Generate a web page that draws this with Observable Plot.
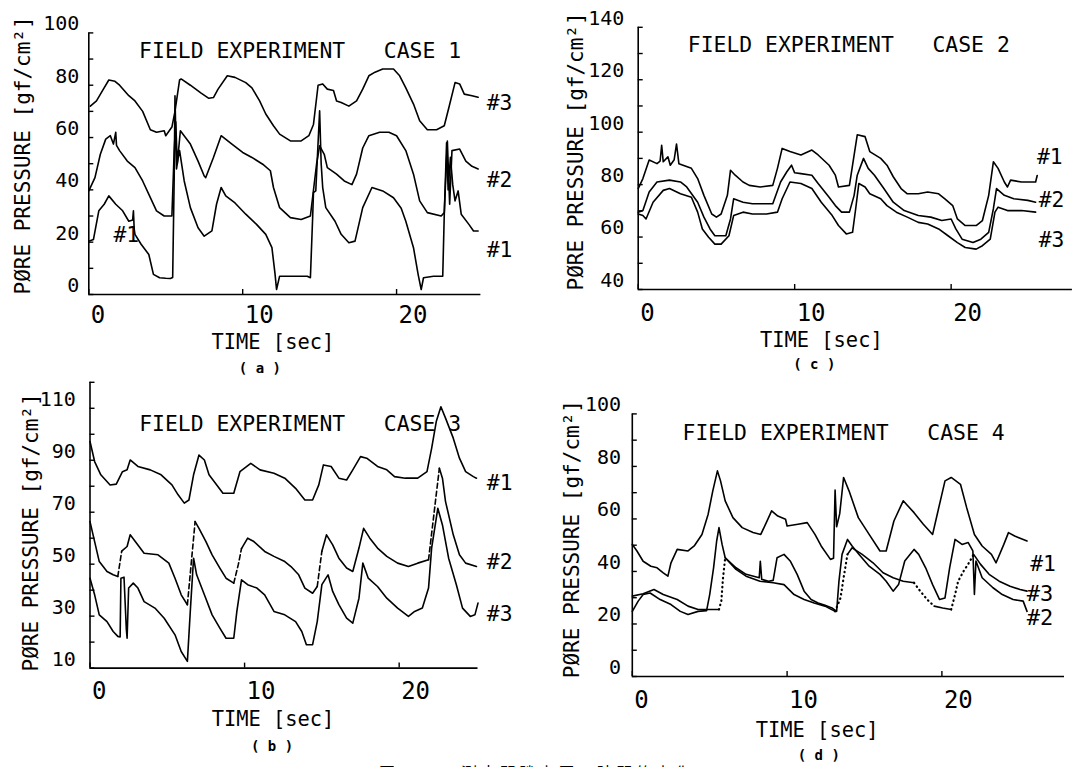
<!DOCTYPE html>
<html><head><meta charset="utf-8">
<script src="https://cdn.jsdelivr.net/npm/d3@7"></script>
<script src="https://cdn.jsdelivr.net/npm/@observablehq/plot@0.6"></script>
<style>
html,body{margin:0;padding:0;background:#fff;}
body{width:1079px;height:767px;overflow:hidden;position:relative;}
.panel{position:absolute;}
.cap{position:absolute;top:764px;font-family:"Noto Sans CJK JP";font-size:16px;line-height:16px;white-space:pre;color:#000;}
</style></head><body>
<div id="pa" class="panel" style="left:0;top:0"></div>
<div id="pc" class="panel" style="left:540px;top:0"></div>
<div id="pb" class="panel" style="left:0;top:380px"></div>
<div id="pd" class="panel" style="left:540px;top:380px"></div>
<div id="cap1" class="cap" style="left:379px"></div>
<div id="cap2" class="cap" style="left:461px;letter-spacing:3.4px"></div>
<script>
// ---------- text ----------
const X_TICKS = [0, 10, 20];
const TIME_LABEL = "TIME [sec]";
const Y_TITLE = "PØRE PRESSURE [gf/cm²]";
const TITLES = ["FIELD EXPERIMENT   CASE 1", "FIELD EXPERIMENT   CASE 2", "FIELD EXPERIMENT   CASE 3", "FIELD EXPERIMENT   CASE 4"];
const SUBS = ["( a )", "( c )", "( b )", "( d )"];
const CAPTION_NUM = "図 3";
const CAPTION = "測定間隙水圧の時間的変化";

// ---------- (a) CASE 1 : [time s, pressure gf/cm2, segment style] ----------
const caseA1 = [[0,20.4],[0.3,21],[0.65,32],[1.0,34.5],[1.3,37.7],[1.75,34.5],[2.2,32],[2.6,28],[2.85,28.5],[2.9,32],[2.95,25],[3.0,23],[3.4,19.2],[3.9,15.3],[4.2,7.7],[4.6,6.4],[5.0,6.2],[5.3,6.1],[5.45,6.5],[5.55,45],[5.6,76],[5.7,48],[5.8,52],[5.9,55],[6.2,43.4],[6.6,33.2],[7.1,25.5],[7.5,22.3],[8.0,24.3],[8.3,34.5],[8.6,40.9],[8.9,37.7],[9.5,35],[10.2,30.7],[10.9,26.8],[11.5,23],[11.9,17.9],[12.1,8],[12.2,1.9],[12.4,7],[13.3,7],[14.2,7],[14.4,6.4],[14.55,30],[14.6,39],[14.75,39.6],[14.85,52],[15.0,70.2],[15.1,50],[15.2,40.9],[15.4,33.2],[16.0,28],[16.4,23],[16.9,19.8],[17.3,20.4],[17.8,33.2],[18.4,40.9],[19.1,39.6],[19.8,37],[20.3,33],[20.6,28],[21.1,17.9],[21.4,7.7],[21.6,1.9],[21.75,6.4],[22.4,7],[23.0,7],[23.1,30.7],[23.25,58],[23.35,40],[23.5,52.4],[23.65,42],[23.8,35.8],[24.0,39.6],[24.2,30.7],[24.7,26.8],[25.0,24.3],[25.3,24.3]];
const caseA2 = [[0,39.6],[0.4,44.7],[0.75,53.6],[1.1,59.4],[1.4,60.7],[1.6,57.5],[1.75,62],[1.8,57],[2.0,55],[2.5,51],[3.0,48.5],[3.5,43.4],[4.0,37],[4.4,32],[4.9,30],[5.4,30],[5.55,55],[5.65,66],[5.75,50],[5.95,62.6],[6.6,57.5],[7.1,51],[7.5,45.3],[7.6,44.7],[8.1,52.4],[8.6,60.7],[9.3,57.5],[10.0,54.3],[10.6,52.4],[11.3,49.8],[11.8,47.3],[12.0,40.9],[12.4,33.2],[13.1,29.4],[13.8,28.7],[14.4,30],[14.8,49.8],[15.0,56.8],[15.3,53.6],[15.5,48.5],[16.1,46],[16.6,43.4],[17.1,42],[17.4,46],[17.8,56],[18.2,60.7],[18.9,62],[19.5,62],[20.0,60.7],[20.6,55],[21.1,46],[21.5,35.8],[22.0,31.3],[22.9,30],[23.1,31.3],[23.3,58.7],[23.45,34.5],[23.6,55],[24.1,55.6],[24.5,51],[24.9,49],[25.3,48]];
const caseA3 = [[0.1,72],[0.5,74],[0.9,78],[1.3,82],[1.7,81.5],[2.0,80],[2.6,76],[3.0,74],[3.5,70],[4.0,63],[4.4,62],[4.9,62.6],[5.0,60.7],[5.4,64],[5.6,70],[5.9,82],[6.0,82.4],[6.6,80],[7.3,77],[7.8,75],[8.1,75.3],[8.4,78.5],[9.0,83.6],[9.5,83],[10.2,81],[10.6,79],[11.1,74],[11.5,69],[12.0,64.5],[12.4,61.3],[13.1,58.7],[13.8,58.7],[14.3,60.7],[14.6,65],[14.9,80],[15.2,80.5],[15.5,78.5],[15.9,78],[16.1,74],[16.4,73.4],[16.9,72],[17.4,74],[17.8,78.5],[18.2,83.6],[18.6,85],[19.1,86.2],[19.8,86.2],[20.2,83.6],[20.6,79],[21.1,72.8],[21.5,66.4],[22.0,63],[22.6,63],[23.1,64.5],[23.4,71.5],[23.8,81],[24.1,80.5],[24.4,76.6],[24.9,76],[25.3,75.4]];

// ---------- (c) CASE 2 ----------
const caseC1 = [[0,78.5],[0.3,82.3],[0.7,89.4],[1.2,88],[1.4,89],[1.5,95],[1.6,88.7],[1.9,90.6],[2.05,87.4],[2.3,89.5],[2.45,95.5],[2.6,88],[3.4,86.2],[3.8,82.3],[4.2,75.9],[4.7,68.8],[5.0,67.6],[5.3,68.8],[5.7,75.9],[5.9,85.5],[6.2,83.6],[6.7,81],[7.1,79.7],[7.8,79.1],[8.6,79.7],[8.9,86.2],[9.2,93.8],[9.7,92.6],[10.4,91.3],[11.1,93.2],[11.5,91.3],[12.2,87.4],[12.6,83.6],[12.8,79.1],[13.5,79.7],[13.7,87.4],[14.0,99],[14.5,98.3],[14.8,92.6],[15.5,90],[15.9,87.4],[16.3,83],[16.8,78.5],[17.2,76.5],[17.9,76.5],[18.5,77.2],[19.2,76.5],[19.6,74.6],[20.1,72],[20.4,66.9],[20.9,64.4],[21.6,64.4],[22.0,66.3],[22.4,75.9],[22.7,88.7],[23.0,86.2],[23.4,81],[23.6,79.1],[23.8,81.7],[24.5,81],[25.4,81],[25.5,83.5]];
const caseC2 = [[0,69.5],[0.3,70.1],[0.7,77.2],[1.2,81],[2.0,81.7],[2.7,81],[3.1,79.1],[3.8,73.3],[4.2,67.6],[4.6,63],[4.9,60.5],[5.6,60.5],[5.9,66.9],[6.1,74.6],[6.7,73.3],[7.3,72.7],[8.0,72.7],[8.6,72.7],[9.1,81],[9.5,84.9],[9.8,87.4],[10.0,84.5],[10.4,84.2],[11.1,83.6],[11.5,80.4],[12.2,75.2],[12.6,72],[13.0,69.5],[13.5,69.5],[13.8,75.9],[14.0,83.6],[14.4,90],[14.7,86.2],[15.1,83.6],[15.7,78.5],[16.3,73.3],[17.0,70.1],[17.9,68.2],[18.7,67.6],[19.4,66.3],[20.0,66.9],[20.3,63.1],[20.7,59.2],[21.4,57.9],[21.9,59.2],[22.4,61.8],[22.7,70.8],[22.9,78.5],[23.4,75.9],[24.0,74.6],[24.9,74],[25.4,73.3]];
const caseC3 = [[0,68.8],[0.3,68.2],[0.5,66.9],[0.95,73.3],[1.6,77.8],[2.0,78.5],[2.7,76.5],[3.4,75.2],[3.8,69.5],[4.1,63.1],[4.5,59.9],[4.9,57.3],[5.3,57.3],[5.8,60.5],[6.1,68.2],[6.7,69.5],[7.3,68.8],[8.2,68.8],[8.9,69.5],[9.2,74.6],[9.7,81],[10.4,80.4],[11.1,78.5],[11.7,73.3],[12.4,68.2],[12.8,64.4],[13.3,61.2],[13.7,61.8],[13.9,70.8],[14.1,80.4],[14.5,79.1],[14.8,76.5],[15.5,74.6],[15.9,72],[16.5,69.5],[17.2,67.6],[17.9,65.6],[18.5,65],[19.2,63.1],[19.8,60.5],[20.4,57.9],[20.9,56],[21.6,55.4],[22.0,56.7],[22.5,59.2],[22.8,69.5],[23.0,71.4],[23.6,70.1],[24.5,70.1],[25.4,69.5]];

// ---------- (b) CASE 3 ----------
const caseB1 = [[0,97.2],[0.3,89.5],[0.7,84.4],[1.3,80.5],[1.7,80.8],[2.1,85.6],[2.4,86.3],[2.6,90.1],[3.1,87.6],[3.9,86.3],[4.6,84.4],[5.3,80.5],[5.7,76.7],[6.1,73.5],[6.4,74.7],[6.7,84.4],[7.05,92],[7.4,90.1],[7.7,84.4],[8.2,80.5],[8.6,77.3],[9.3,77.3],[9.7,85.6],[10.4,88.8],[11.0,86.3],[11.9,85],[12.6,83.1],[13.3,79.2],[13.9,74.7],[14.4,74.7],[14.8,80.5],[15.1,88.2],[15.6,87.6],[16.1,83.1],[16.6,82.4],[17.0,86.3],[17.5,91.4],[17.9,90.8],[18.6,87.6],[19.2,86.3],[19.7,83.7],[20.4,83.1],[21.2,83.1],[21.8,85.6],[22.1,94.6],[22.4,104.9],[22.7,110.6],[23.0,106.2],[23.5,98.5],[23.9,90.8],[24.3,85.6],[24.8,83.7],[25.0,83.1]];
const caseB2 = [[0,66.4],[0.3,58.7],[0.6,51],[1.1,47.2],[1.5,45.9],[1.8,45.3,"d"],[2.05,55],[2.4,56.8],[2.6,61.3],[3.1,57.4],[3.5,54.2],[4.4,53.6],[5.1,50.4],[5.5,44.6],[5.9,38.2],[6.3,34.4,"d"],[6.8,66.4],[7.05,63.8],[7.5,58.7],[7.9,53.6],[8.4,48.5],[8.8,44.6],[9.3,42.7,"d"],[9.6,50,"d"],[9.8,56],[10.2,60],[10.6,58.7],[11.3,54.9],[11.9,53],[12.6,51],[13.0,49.1],[13.5,45.9],[13.9,40.8],[14.4,38.8],[14.7,41.4,"d"],[15.0,55],[15.3,61.3],[15.7,57.4],[16.1,52.3],[16.6,48.5],[17.0,47.2],[17.4,56.2],[17.7,63.8],[18.1,60],[18.6,56.2],[19.2,53],[19.9,50.4],[20.6,49.1],[21.2,50.4],[21.9,51.7,"d"],[22.6,86.9],[22.8,83.1],[23.0,74.1],[23.5,61.3],[23.9,53.6],[24.3,50.4],[25.0,49.1]];
const caseB3 = [[0,44.6],[0.3,38.2],[0.6,30.5],[1.1,27.9],[1.5,24.1],[1.8,22.2],[1.95,22],[2.0,44.6],[2.2,45],[2.35,25],[2.4,21.5],[2.5,40.8],[2.8,42.7],[3.1,40.8],[3.5,35.6],[4.2,33.1],[4.8,29.2],[5.5,22.8],[5.9,16.4],[6.3,12.6],[6.5,33.1],[6.7,52.3],[6.9,45.9],[7.4,38.2],[7.9,30.5],[8.4,25.4],[8.8,21.5],[9.3,21.5],[9.5,31.8],[9.8,44],[10.2,42.1],[10.8,40.8],[11.3,38.2],[11.9,31.8],[12.6,30.5],[13.3,27.9],[13.7,24.1],[14.0,19],[14.4,19],[14.7,27.9],[15.0,42.1],[15.4,45.9],[15.7,39.5],[16.1,34.4],[16.6,29.2],[17.0,27.3],[17.4,36.9],[17.65,50.4],[18.0,44.6],[18.6,41.4],[19.2,36.9],[19.9,33.1],[20.6,29.9],[21.0,31.8],[21.5,33.1],[21.9,40.8],[22.1,56.2],[22.5,71.5],[22.8,65.1],[23.2,52.3],[23.7,42.1],[24.1,33.1],[24.6,29.9],[24.9,30.5],[25.1,35]];

// ---------- (d) CASE 4 ----------
const caseD1 = [[0,50.3],[0.3,47.8],[0.7,43.9],[1.2,42],[1.6,41.4],[2.0,39.5],[2.3,38.2],[2.5,43.3],[2.9,48.4],[3.6,47.8],[4.0,49.7],[4.5,54.1],[4.9,61.8],[5.2,70.7],[5.5,78.3],[5.7,74.5],[6.0,66.9],[6.5,60.5],[7.1,56.7],[7.8,54.8],[8.3,54.1],[8.7,59.2],[9.0,63.1],[9.4,61.1],[9.9,59.9],[10.0,57.3],[10.7,58],[11.3,58.6],[11.8,54.1],[12.2,49.7],[12.8,44.6],[13.0,45],[13.1,71],[13.2,57],[13.4,62],[13.65,75.8],[14.0,70.7],[14.6,60.5],[15.3,54.1],[16.0,47.8],[16.4,47.8],[16.9,59.2],[17.5,66.9],[18.2,62.4],[18.8,58],[19.4,54.1],[19.7,61.8],[20.2,74.5],[20.6,75.8],[21.2,73.2],[21.6,64.3],[22.1,54.1],[22.6,49.7],[23.2,46.5],[23.5,43.3],[24.0,50.3],[24.3,54.8],[24.7,53.5],[25.5,51.6]];
const caseD2 = [[0,24.8],[0.38,28.7],[0.7,31.2],[1.15,31.8],[1.8,29.3],[2.5,27.4],[3.1,24.8],[3.6,23.6],[4.25,24.8],[4.8,25.1],[5.0,31.2],[5.25,41.4],[5.45,51.6],[5.6,56.7],[5.8,50.3],[6.0,45.2],[6.7,41.4],[7.35,38.9],[8.2,37.6],[8.27,43.9],[8.36,37],[8.8,36.3],[9.1,36.6],[9.35,45.2],[9.8,46.5],[10.2,44],[10.65,38.9],[11.1,32.5],[11.55,29.3],[12.0,28],[12.45,27.1],[12.9,26.1],[13.2,24.8],[13.35,36.3],[13.55,46.5],[13.9,52.2],[14.2,49.7],[14.65,46.5],[15.3,42],[16.0,38.9],[16.4,36.3],[16.85,32.5],[17.2,35],[17.6,44],[18.2,48.4],[18.5,46.5],[18.95,41.4],[19.4,35],[19.85,29.3],[20.2,29.9],[20.5,41.4],[20.85,52.2],[21.3,50.3],[21.7,51],[22.0,47.8],[22.1,31.2],[22.2,44],[22.6,37.6],[23.3,33.8],[23.9,31.2],[24.6,29.3],[25.25,28.7],[25.5,24.8]];
const caseD3 = [[0,30.6],[0.7,31.5],[1.4,33.1],[2.0,31.2],[2.9,29.3],[3.6,26.8],[4.25,25.5],[5.6,25.5,"o"],[5.75,28.7,"o"],[5.85,36.9,"o"],[6.0,45.2],[6.7,40.8],[7.35,38.2],[8.25,36.3],[9.1,35.7],[9.8,35],[10.45,31.2],[11.1,29.3],[11.75,28],[12.45,26.8],[13.1,24.8,"o"],[13.45,29.9,"o"],[13.65,37.6,"o"],[13.9,46.5],[14.2,49],[14.85,46.5],[15.55,43.3],[16.2,39.5],[16.85,37.6],[17.5,36.3],[18.2,35.7,"o"],[18.6,32.5,"o"],[19.05,29.3,"o"],[19.5,26.8],[20.05,26.1],[20.6,25.5,"o"],[20.85,31.2,"o"],[21.05,36.3,"o"],[21.4,40.1,"o"],[21.75,43.3,"o"],[22.05,46.5],[22.5,42.7],[23.05,38.9],[23.7,36.3],[24.4,34.4],[25.05,33.1],[25.5,32.5]];

// ---------- helpers ----------
const MONO = "DejaVu Sans Mono";
const nb = s => s.replace(/ /g, "\u00a0");

function toRows(pts, id) {
  const rows = [];
  let g = 0, cur = null;
  for (let i = 0; i < pts.length - 1; i++) {
    const m = pts[i][2] || "s";
    if (m !== cur) { g++; cur = m; rows.push({t: pts[i][0], v: pts[i][1], g: id + "-" + g, m}); }
    rows.push({t: pts[i + 1][0], v: pts[i + 1][1], g: id + "-" + g, m});
  }
  return rows;
}

function makePanel(p) {
  const fw = p.width - p.ml - p.mr, fh = p.height - p.mt - p.mb;
  const pxT = fw / p.xmax, pxV = fh / (p.ydom[1] - p.ydom[0]);
  const seriesMarks = [];
  p.series.forEach((s, i) => {
    const rows = toRows(s, i);
    seriesMarks.push(Plot.line(rows.filter(r => r.m === "s"), {x: "t", y: "v", z: "g", stroke: "#000", strokeWidth: 1.6, strokeLinejoin: "round", strokeLinecap: "round"}));
    seriesMarks.push(Plot.line(rows.filter(r => r.m === "d"), {x: "t", y: "v", z: "g", stroke: "#000", strokeWidth: 1.6, strokeDasharray: "5,3"}));
    seriesMarks.push(Plot.line(rows.filter(r => r.m === "o"), {x: "t", y: "v", z: "g", stroke: "#000", strokeWidth: 2.2, strokeDasharray: "0.5,4", strokeLinecap: "round"}));
  });
  const y0 = p.ydom[0];
  const yTicks = d3.range(p.ydom[0], p.ydom[1] + 1, 10);
  const chart = Plot.plot({
    width: p.width, height: p.height,
    marginLeft: p.ml, marginRight: p.mr, marginTop: p.mt, marginBottom: p.mb,
    x: {domain: [0, p.xmax]},
    y: {domain: p.ydom},
    style: {fontFamily: MONO, background: "white", color: "black", overflow: "visible"},
    marks: [
      Plot.ruleX([0], {y1: () => p.ydom[0], y2: () => p.ydom[1], strokeWidth: 1.6}),
      Plot.ruleY([y0], {x1: () => 0, x2: () => p.xmax, strokeWidth: 1.6}),
      Plot.ruleY(yTicks, {x1: () => 0, x2: () => 5 / pxT, strokeWidth: 1.4}),
      Plot.ruleX(X_TICKS, {y1: () => y0, y2: () => y0 + 5 / pxV, strokeWidth: 1.4}),
      Plot.axisY({ticks: p.yLabels, tickSize: 0, tickPadding: p.yPad, fontSize: 20, dy: -9, label: null}),
      Plot.axisX({ticks: X_TICKS, tickSize: 0, tickPadding: p.xPad, textAnchor: "start", dx: 2, fontSize: 24, label: null}),
      ...seriesMarks,
      Plot.text([p.title], {x: () => p.titlePos[0], y: () => p.titlePos[1], text: d => nb(d), textAnchor: "start", fontSize: 21.4}),
      Plot.text(p.labels, {x: d => d[0], y: d => d[1], text: d => d[2], textAnchor: "start", fontSize: d => d[3] ? 22 : 21.3, fontWeight: d => d[3] ? "bold" : "normal"}),
      Plot.text([TIME_LABEL], {frameAnchor: "bottom", lineAnchor: "middle", dx: p.timeOff[0], dy: p.timeOff[1], text: d => nb(d), fontSize: 20.4}),
      Plot.text([p.sub], {frameAnchor: "bottom", lineAnchor: "middle", dx: p.subOff[0], dy: p.subOff[1], text: d => nb(d), fontSize: 14, fontWeight: "bold"}),
      Plot.text([Y_TITLE], {frameAnchor: "bottom-left", lineAnchor: "middle", rotate: -90, textAnchor: "start", dx: p.yTitleOff[0], dy: p.yTitleOff[1], text: d => d, fontSize: 21})
    ]
  });
  document.getElementById(p.id).appendChild(chart);
}

makePanel({id: "pa", width: 540, height: 380, ml: 88.3, mr: 59.6, mt: 32.4, mb: 86, xmax: 25.48,
  ydom: [0, 100], yLabels: [0, 20, 40, 60, 80, 100], yPad: 9.5, xPad: 11,
  series: [caseA1, caseA2, caseA3], title: TITLES[0], titlePos: [3.27, 93.2], sub: SUBS[0],
  labels: [[25.86, 73.1, "#3"], [25.86, 43.7, "#2"], [25.86, 16.9, "#1"], [1.6, 22.6, "#1"]],
  timeOff: [-12, 47.8], subOff: [-25, 73.9], yTitleOff: [-66, 0]});

makePanel({id: "pc", width: 539, height: 380, ml: 97.7, mr: 7.1, mt: 26.8, mb: 91, xmax: 27.75,
  ydom: [40, 140], yLabels: [40, 60, 80, 100, 120, 140], yPad: 13.8, xPad: 14,
  series: [caseC1, caseC2, caseC3], title: TITLES[1], titlePos: [3.17, 133.3], sub: SUBS[1],
  labels: [[25.49, 90.5, "#1"], [25.6, 74.1, "#2"], [25.6, 58.7, "#3"]],
  timeOff: [-34, 50.6], subOff: [-41, 75], yTitleOff: [-61.7, 1]});

makePanel({id: "pb", width: 540, height: 387, ml: 89.5, mr: 62.5, mt: 1.8, mb: 99.4, xmax: 25.1,
  ydom: [10, 120], yLabels: [10, 30, 50, 70, 90, 110], yPad: 14.2, xPad: 14,
  series: [caseB1, caseB2, caseB3], title: TITLES[2], titlePos: [3.18, 104], sub: SUBS[2],
  labels: [[25.67, 81.2, "#1"], [25.67, 50.9, "#2"], [25.67, 30.6, "#3"]],
  timeOff: [-11, 51], subOff: [-12, 78.6], yTitleOff: [-58.7, 3.4]});

makePanel({id: "pd", width: 539, height: 387, ml: 91.8, mr: 15, mt: 33.4, mb: 91, xmax: 27.92,
  ydom: [0, 100], yLabels: [0, 20, 40, 60, 80, 100], yPad: 11.3, xPad: 14,
  series: [caseD1, caseD2, caseD3], title: TITLES[3], titlePos: [3.25, 92.7], sub: SUBS[3],
  labels: [[25.7, 42.6, "#1"], [25.48, 31.6, "#3", true], [25.48, 22.3, "#2", true]],
  timeOff: [-31.3, 53.5], subOff: [-29.6, 78.6], yTitleOff: [-60, 1.7]});

document.getElementById("cap1").textContent = CAPTION_NUM;
document.getElementById("cap2").textContent = CAPTION;
</script>
</body></html>
